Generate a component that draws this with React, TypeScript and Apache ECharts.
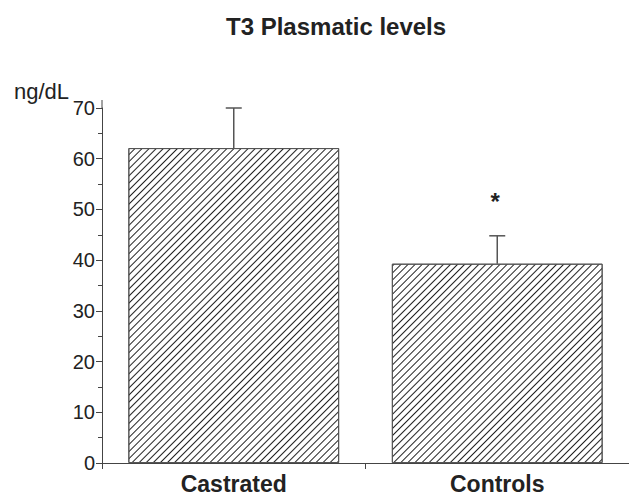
import React, { useEffect, useRef } from "react";
import * as echarts from "echarts";

const categories = ["Castrated", "Controls"];
const means = [62.1, 39.3];
const errTops = [70.0, 44.8];
const sigMarks = ["", "*"];
const yTicks = { min: 0, max: 70, interval: 10 };

export default function App() {
  const ref = useRef<HTMLDivElement>(null);
  useEffect(() => {
    const chart = echarts.init(ref.current!, null, { renderer: "svg" });
    const font = "Liberation Sans, Arial, sans-serif";
    chart.setOption({
      animation: false,
      backgroundColor: "#fff",
      title: {
        text: "T3 Plasmatic levels",
        left: 221,
        top: 9,
        textStyle: { fontFamily: font, fontSize: 24, fontWeight: "bold", color: "#222" },
      },
      graphic: [
        {
          type: "text",
          left: 14,
          top: 80,
          style: { text: "ng/dL", font: `22px ${font}`, fill: "#222" },
        },
        {
          type: "line",
          shape: { x1: 102, y1: 100, x2: 102, y2: 108 },
          style: { stroke: "#444", lineWidth: 1 },
        },
      ],
      grid: { left: 102, top: 108, right: -5, bottom: 32 },
      xAxis: {
        type: "category",
        data: categories,
        axisLine: { lineStyle: { color: "#444", width: 1 } },
        axisTick: { show: true, length: 6, lineStyle: { color: "#444" } },
        axisLabel: {
          margin: 9,
          fontFamily: font,
          fontSize: 23,
          fontWeight: "bold",
          color: "#222",
        },
      },
      yAxis: {
        type: "value",
        min: yTicks.min,
        max: yTicks.max,
        interval: yTicks.interval,
        axisLine: { show: true, lineStyle: { color: "#444", width: 1 } },
        axisTick: { show: true, length: 6, lineStyle: { color: "#444" } },
        minorTick: { show: true, splitNumber: 2, length: 4, lineStyle: { color: "#444" } },
        splitLine: { show: false },
        axisLabel: { margin: 7, fontFamily: font, fontSize: 20, color: "#222" },
      },
      series: [
        {
          type: "bar",
          data: means,
          barWidth: "80%",
          itemStyle: {
            color: "#fff",
            borderColor: "#555",
            borderWidth: 1,
            decal: {
              symbol: "rect",
              symbolSize: 1,
              color: "#222",
              dashArrayX: [1, 0],
              dashArrayY: [1, 3.2],
              rotation: -Math.PI / 4,
            },
          },
        },
        {
          type: "custom",
          data: categories.map((c, i) => [i, means[i], errTops[i]]),
          renderItem: (params: any, api: any) => {
            const i = api.value(0);
            const base = api.coord([i, api.value(1)]);
            const top = api.coord([i, api.value(2)]);
            const hw = 8;
            const children: any[] = [
              {
                type: "line",
                shape: { x1: base[0], y1: base[1], x2: top[0], y2: top[1] },
                style: { stroke: "#555", lineWidth: 1.5 },
              },
              {
                type: "line",
                shape: { x1: top[0] - hw, y1: top[1], x2: top[0] + hw, y2: top[1] },
                style: { stroke: "#555", lineWidth: 1.5 },
              },
            ];
            const mark = sigMarks[i];
            if (mark) {
              children.push({
                type: "text",
                style: {
                  text: mark,
                  x: top[0] - 2,
                  y: top[1] - 34,
                  font: `bold 24px ${font}`,
                  fill: "#222",
                  align: "center",
                  verticalAlign: "middle",
                },
              });
            }
            return { type: "group", children };
          },
          z: 5,
        },
      ],
    });
    return () => chart.dispose();
  }, []);
  return (
    <div
      ref={ref}
      style={{ position: "fixed", left: 0, top: 0, width: 629, height: 495 }}
    />
  );
}
